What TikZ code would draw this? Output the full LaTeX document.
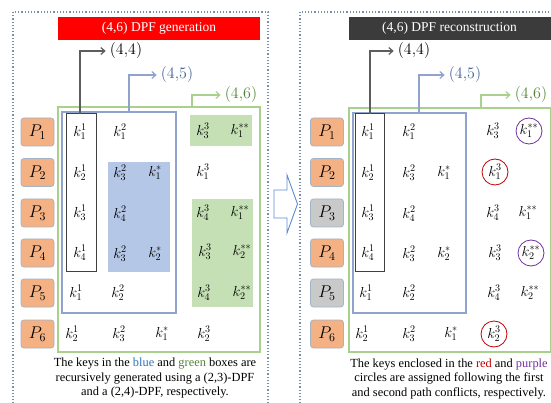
\RequirePackage{fix-cm}
\documentclass[tikz,border=0pt]{standalone}
\usepackage{fontspec}
\setmainfont{Liberation Serif}
\usetikzlibrary{arrows.meta}

\definecolor{porange}{HTML}{F4B183}
\definecolor{pgray}{HTML}{C9C9C9}
\definecolor{pborder}{HTML}{A3B3C8}
\definecolor{gline}{HTML}{A9D18E}
\definecolor{bline}{HTML}{8FA3CC}
\definecolor{bfill}{HTML}{B4C7E7}
\definecolor{gfill}{HTML}{C5E0B4}
\definecolor{darkline}{HTML}{404040}
\definecolor{dotline}{HTML}{7A8FAE}
\definecolor{titlered}{HTML}{FF0000}
\definecolor{titledark}{HTML}{3B3B3B}
\definecolor{navytext}{HTML}{3F5F93}
\definecolor{greentext}{HTML}{548235}
\definecolor{captblue}{HTML}{2E75B6}
\definecolor{captgreen}{HTML}{548235}
\definecolor{captred}{HTML}{C00000}
\definecolor{captpurple}{HTML}{7030A0}
\definecolor{bigarrow}{HTML}{5B8BD0}

\tikzset{
  pbox/.style={draw=pborder, line width=0.8pt, fill=porange, rounded corners=3pt,
    minimum width=33pt, minimum height=28pt, inner sep=0pt,
    font=\fontsize{17}{19}\selectfont},
  pboxg/.style={pbox, fill=pgray},
  key/.style={inner sep=0pt, font=\fontsize{14.5}{16}\selectfont},
  ring/.style={key, circle, draw, line width=0.8pt, minimum size=26pt},
  titlebox/.style={minimum width=202pt, minimum height=23pt, inner sep=0pt,
    text=white, font=\fontsize{13.5}{15}\selectfont},
  level/.style={inner sep=1pt, font=\fontsize{16}{18}\selectfont},
  arr/.style={line width=1.2pt, -{Straight Barb[length=4pt,width=7pt]}, shorten >=3pt},
  frame/.style={line width=1.5pt},
  dotframe/.style={draw=dotline, line width=1.2pt, dotted},
  caption/.style={align=center, inner sep=0pt, font=\fontsize{12.4}{14.5}\selectfont},
}

\begin{document}
\begin{tikzpicture}[x=1pt, y=-1pt]
\useasboundingbox (0,0) rectangle (551,403);

% ---------------- generation panel ----------------
\draw[dotframe] (13,12) rectangle (268,405);
\node[titlebox, fill=titlered] (gtitle) at (159,28.5) {(4,6) DPF generation};

% shaded sub-DPF blocks
\fill[bfill] (108,162) rectangle (170,272);
\fill[gfill] (190,115) rectangle (252,146);
\fill[gfill] (192,199) rectangle (253,307);

% nested frames
\draw[frame, draw=gline] (58,107) rectangle (260,352);
\draw[frame, draw=bline] (62,112) rectangle (176,313);
\draw[line width=1pt, draw=darkline] (66,114) rectangle (96,271);

% threshold labels and their arrows
\coordinate (g44s) at (80,114);
\coordinate (g45s) at (129,112);
\coordinate (g46s) at (192,107);
\node[level] (g44) at (126,51) {$(4{,}4)$};
\node[level, text=navytext] (g45) at (177,75) {$(4{,}5)$};
\node[level, text=greentext] (g46) at (241,95) {$(4{,}6)$};
\draw[arr, draw=darkline!85] (g44s) |- (g44.west);
\draw[arr, draw=bline] (g45s) |- (g45.west);
\draw[arr, draw=gline] (g46s) |- (g46.west);

% parties
\node[pbox] (gp1) at (37.5,132) {$P_1$};
\node[pbox] (gp2) at (37.5,172.5) {$P_2$};
\node[pbox] (gp3) at (37.5,213) {$P_3$};
\node[pbox] (gp4) at (37.5,253) {$P_4$};
\node[pbox] (gp5) at (37.5,293) {$P_5$};
\node[pbox] (gp6) at (37.5,334) {$P_6$};

% keys
\node[key] (ga1) at (80,132) {$k_1^1$};
\node[key] (gb1) at (120,132) {$k_1^2$};
\node[key] (gd1) at (203,131) {$k_3^3$};
\node[key] (ge1) at (240,131) {$k_1^{**}$};

\node[key] (ga2) at (80,173) {$k_2^1$};
\node[key] (gb2) at (120,173) {$k_3^2$};
\node[key] (gc2) at (155,173) {$k_1^{*}$};
\node[key] (gd2) at (203,172) {$k_1^3$};

\node[key] (ga3) at (80,213) {$k_3^1$};
\node[key] (gb3) at (120,214) {$k_4^2$};
\node[key] (gd3) at (203,213) {$k_4^3$};
\node[key] (ge3) at (240,213) {$k_1^{**}$};

\node[key] (ga4) at (80,253) {$k_4^1$};
\node[key] (gb4) at (120,254) {$k_3^2$};
\node[key] (gc4) at (155,254) {$k_2^{*}$};
\node[key] (gd4) at (205,252) {$k_3^3$};
\node[key] (ge4) at (242,252) {$k_2^{**}$};

\node[key] (ga5) at (76,293) {$k_1^1$};
\node[key] (gb5) at (118,293) {$k_2^2$};
\node[key] (gd5) at (204,293) {$k_4^3$};
\node[key] (ge5) at (242,293) {$k_2^{**}$};

\node[key] (ga6) at (72,334) {$k_2^1$};
\node[key] (gb6) at (119,334) {$k_3^2$};
\node[key] (gc6) at (162,334) {$k_1^{*}$};
\node[key] (gd6) at (204,334) {$k_2^3$};

\node[caption] (gcap) at (155,378.5) {The keys in the \textcolor{captblue}{blue} and \textcolor{captgreen}{green} boxes are\\
recursively generated using a (2,3)-DPF\\ and a (2,4)-DPF, respectively.};

% ---------------- transition arrow ----------------
\draw[draw=bigarrow, line width=0.9pt, fill=white]
  (274,190) -- (287,190) -- (287,175) -- (297.5,204) -- (287,233) -- (287,218) -- (274,218) -- cycle;

% ---------------- reconstruction panel ----------------
\begin{scope}[xshift=290pt]
\draw[dotframe] (10,12) rectangle (268,405);
\node[titlebox, fill=titledark] (rtitle) at (159.5,28.5) {(4,6) DPF reconstruction};

\draw[frame, draw=gline] (59,108) rectangle (261,352);
\draw[frame, draw=bline] (63,113) rectangle (176,313);
\draw[line width=1pt, draw=darkline] (65,114) rectangle (94,271);

\coordinate (r44s) at (80,114);
\coordinate (r45s) at (129,113);
\coordinate (r46s) at (191,108);
\node[level] (r44) at (124,51) {$(4{,}4)$};
\node[level, text=navytext] (r45) at (175,75) {$(4{,}5)$};
\node[level, text=greentext] (r46) at (241,95) {$(4{,}6)$};
\draw[arr, draw=darkline!85] (r44s) |- (r44.west);
\draw[arr, draw=bline] (r45s) |- (r45.west);
\draw[arr, draw=gline] (r46s) |- (r46.west);

\node[pbox] (rp1) at (37,132) {$P_1$};
\node[pbox] (rp2) at (37,172.5) {$P_2$};
\node[pboxg] (rp3) at (37,213) {$P_3$};
\node[pbox] (rp4) at (37,253) {$P_4$};
\node[pboxg] (rp5) at (37,293) {$P_5$};
\node[pbox] (rp6) at (37,334) {$P_6$};

\node[key] (ra1) at (78,132) {$k_1^1$};
\node[key] (rb1) at (119,132) {$k_1^2$};
\node[key] (rd1) at (203,131) {$k_3^3$};
\node[ring, draw=captpurple] (re1) at (239,131) {$k_1^{**}$};

\node[key] (ra2) at (78,173) {$k_2^1$};
\node[key] (rb2) at (119,173) {$k_3^2$};
\node[key] (rc2) at (154,173) {$k_1^{*}$};
\node[ring, draw=captred] (rd2) at (205,172) {$k_1^3$};

\node[key] (ra3) at (78,213) {$k_3^1$};
\node[key] (rb3) at (119,214) {$k_4^2$};
\node[key] (rd3) at (203,213) {$k_4^3$};
\node[key] (re3) at (238,213) {$k_1^{**}$};

\node[key] (ra4) at (78,253) {$k_4^1$};
\node[key] (rb4) at (119,254) {$k_3^2$};
\node[key] (rc4) at (154,254) {$k_2^{*}$};
\node[key] (rd4) at (205,253) {$k_3^3$};
\node[ring, draw=captpurple] (re4) at (241,253) {$k_2^{**}$};

\node[key] (ra5) at (76,293) {$k_1^1$};
\node[key] (rb5) at (119,293) {$k_2^2$};
\node[key] (rd5) at (204,293) {$k_4^3$};
\node[key] (re5) at (240,293) {$k_2^{**}$};

\node[key] (ra6) at (72,334) {$k_2^1$};
\node[key] (rb6) at (119,334) {$k_3^2$};
\node[key] (rc6) at (161,334) {$k_1^{*}$};
\node[ring, draw=captred] (rd6) at (204,334) {$k_2^3$};

\node[caption] (rcap) at (159,379) {The keys enclosed in the \textcolor{captred}{red} and \textcolor{captpurple}{purple}\\
circles are assigned following the first\\ and second path conflicts, respectively.};
\end{scope}
\end{tikzpicture}
\end{document}
